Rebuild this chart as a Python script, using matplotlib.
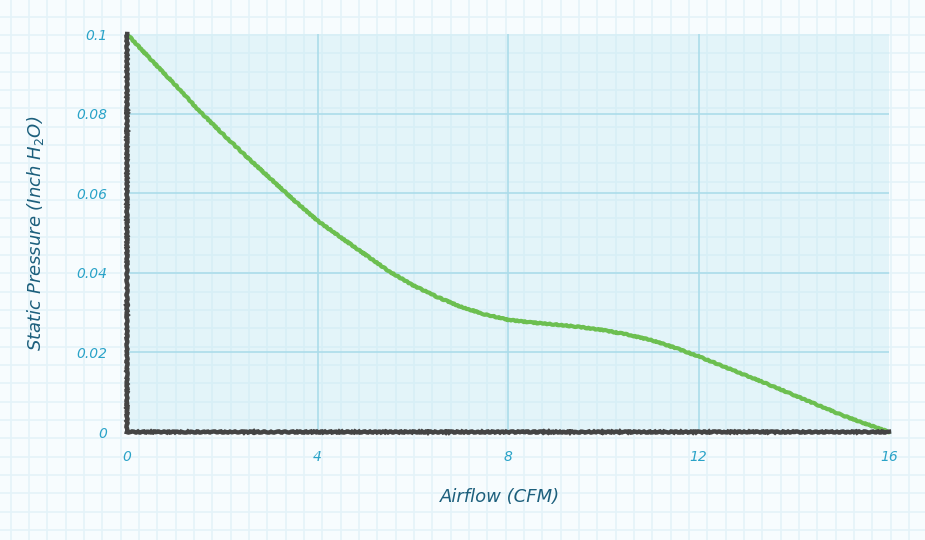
import matplotlib
matplotlib.use("Agg")
import matplotlib.pyplot as plt
import numpy as np

# fan curve (every half CFM)
airflow = [0, 0.5, 1, 1.5, 2, 2.5, 3, 3.5, 4, 4.5, 5, 5.5, 6, 6.5, 7, 7.5, 8,
           8.5, 9, 9.5, 10, 10.5, 11, 11.5, 12, 12.5, 13, 13.5, 14, 14.5, 15, 15.5, 16]
pressure = [0.1, 0.0936, 0.0874, 0.0809, 0.0750, 0.0693, 0.0638, 0.0583, 0.0531,
            0.0488, 0.0446, 0.0404, 0.0369, 0.0340, 0.0315, 0.0296, 0.0282,
            0.0275, 0.0270, 0.0264, 0.0256, 0.0245, 0.0231, 0.0212, 0.0190,
            0.0166, 0.0142, 0.0118, 0.0093, 0.0068, 0.0043, 0.0021, 0.0]

x_ticks = [0, 4, 8, 12, 16]
y_ticks = [0, 0.02, 0.04, 0.06, 0.08, 0.1]
y_tick_labels = ["0", "0.02", "0.04", "0.06", "0.08", "0.1"]

TICK_COLOR = "#2aa3c8"
LABEL_COLOR = "#1c5f7c"
AXIS_COLOR = "#444444"
CURVE_COLOR = "#6cbf50"

plt.rcParams["font.family"] = ["DejaVu Sans"]

fig = plt.figure(figsize=(9.25, 5.4), dpi=100)
fig.patch.set_facecolor("#f7fcfe")

# graph paper behind everything
bg = fig.add_axes([0, 0, 1, 1], zorder=0)
bg.set_xlim(0, 925)
bg.set_ylim(540, 0)
bg.axis("off")
for gx in np.arange(10.8, 925, 18.33):
    bg.axvline(gx, color="#e4f3f9", lw=1.2)
for gy in np.arange(-1.6, 540, 18.33):
    bg.axhline(gy, color="#e4f3f9", lw=1.2)

ax = fig.add_axes([0.1373, 0.2, 0.8238, 0.737], zorder=1)
ax.patch.set_facecolor("#c4e9f3")
ax.patch.set_alpha(0.38)

ax.set_xlim(0, 16)
ax.set_ylim(0, 0.1)

for gx in x_ticks[1:-1]:
    ax.axvline(gx, color="#acdcea", lw=1.2, zorder=1)
for gy in y_ticks[1:-1]:
    ax.axhline(gy, color="#acdcea", lw=1.2, zorder=1)

line, = ax.plot(airflow, pressure, color=CURVE_COLOR, lw=3.0,
                solid_capstyle="round", solid_joinstyle="round",
                zorder=3, clip_on=False)
line.set_sketch_params(scale=0.5, length=6, randomness=3)

for side in ["top", "right"]:
    ax.spines[side].set_visible(False)
for side in ["left", "bottom"]:
    sp = ax.spines[side]
    sp.set_color(AXIS_COLOR)
    sp.set_linewidth(3.2)
    sp.set_zorder(4)
    sp.set_sketch_params(scale=0.6, length=6, randomness=3)

ax.set_xticks(x_ticks)
ax.set_xticklabels([str(t) for t in x_ticks])
ax.set_yticks(y_ticks)
ax.set_yticklabels(y_tick_labels)
ax.tick_params(length=0, colors=TICK_COLOR, labelsize=10)
ax.tick_params(axis="x", pad=13)
ax.tick_params(axis="y", pad=14)
for lab in ax.get_xticklabels() + ax.get_yticklabels():
    lab.set_fontstyle("italic")

ax.set_xlabel("Airflow (CFM)", color=LABEL_COLOR, fontsize=13, fontstyle="italic")
ax.set_ylabel("Static Pressure (Inch H$_2$O)", color=LABEL_COLOR, fontsize=13,
              fontstyle="italic")
ax.xaxis.set_label_coords(0.49, -0.14)
ax.yaxis.set_label_coords(-0.106, 0.5)

fig.savefig("out.png", dpi=100, facecolor=fig.get_facecolor())
